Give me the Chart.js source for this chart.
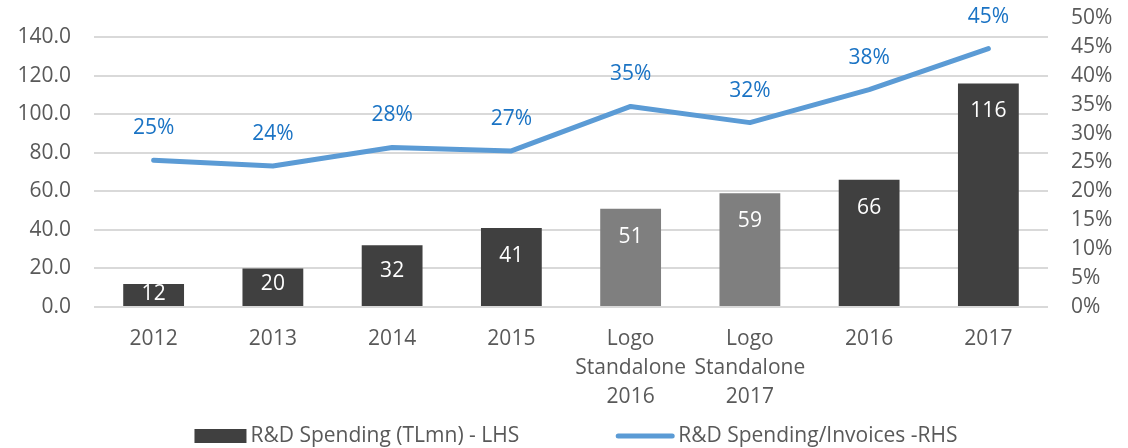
<!DOCTYPE html>
<html>
<head>
<meta charset="utf-8">
<script src="https://cdn.jsdelivr.net/npm/chart.js@4.4.1/dist/chart.umd.min.js"></script>
<style>
  html, body { margin: 0; padding: 0; background: #fff; }
  #wrap { width: 1128px; height: 448px; }
</style>
</head>
<body>
<div id="wrap"><canvas id="rdChart" width="1128" height="448"></canvas></div>
<script>
// values
const categories = ['2012', '2013', '2014', '2015', ['Logo', 'Standalone', '2016'], ['Logo', 'Standalone', '2017'], '2016', '2017'];
const spending = [12, 20, 32, 41, 51, 59, 66, 116];
const spendingRatio = [25.4, 24.4, 27.6, 27.0, 34.7, 31.9, 37.6, 44.7];
const leftAxis = { min: 0, max: 150, step: 20 };
const rightAxis = { min: 0, max: 50, step: 5 };
const seriesNames = ['R&D Spending (TLmn) - LHS', 'R&D Spending/Invoices -RHS'];

const DARK = '#404040';
const LIGHT = '#7f7f7f';
const BLUE = '#5b9bd5';
const LABEL_BLUE = '#1a73c4';
const TEXT = '#595959';
const FONT = "'Open Sans', sans-serif";

// draws the value labels on bars and line points
const valueLabels = {
    id: 'valueLabels',
    afterDatasetsDraw(chart) {
        const ctx = chart.ctx;
        ctx.save();
        ctx.font = '21px ' + FONT;
        ctx.textAlign = 'center';
        ctx.textBaseline = 'middle';

        const barMeta = chart.getDatasetMeta(1);
        barMeta.data.forEach((bar, i) => {
            const h = bar.base - bar.y;
            const off = Math.min(27, h * 0.4);
            ctx.fillStyle = '#fff';
            ctx.fillText(String(spending[i]), bar.x, bar.y + off + 1);
        });

        const lineMeta = chart.getDatasetMeta(0);
        lineMeta.data.forEach((pt, i) => {
            ctx.fillStyle = LABEL_BLUE;
            ctx.fillText(Math.round(spendingRatio[i]) + '%', pt.x, pt.y - 32);
        });
        ctx.restore();
    }
};

// simple legend at the bottom, like the Excel one
const bottomLegend = {
    id: 'bottomLegend',
    afterDraw(chart) {
        const ctx = chart.ctx;
        ctx.save();
        ctx.font = '21px ' + FONT;
        ctx.textBaseline = 'middle';
        ctx.textAlign = 'left';
        const y = 436;
        const w1 = ctx.measureText(seriesNames[0]).width;
        const w2 = ctx.measureText(seriesNames[1]).width;
        const total = 52 + 4 + w1 + 97 + 58 + 4 + w2;
        let x = chart.width / 2 + 12 - total / 2;

        ctx.fillStyle = DARK;
        ctx.fillRect(x, y - 7, 52, 14);
        x += 56;
        ctx.fillStyle = TEXT;
        ctx.fillText(seriesNames[0], x, y);
        x += w1 + 97;

        ctx.strokeStyle = BLUE;
        ctx.lineWidth = 5;
        ctx.lineCap = 'round';
        ctx.beginPath();
        ctx.moveTo(x + 2, y);
        ctx.lineTo(x + 56, y);
        ctx.stroke();
        x += 62;
        ctx.fillStyle = TEXT;
        ctx.fillText(seriesNames[1], x, y);
        ctx.restore();
    }
};

function fixY(width) {
    return s => {
        s.width = width;
        s.paddingTop = 0;
        s.paddingBottom = 0;
    };
}

new Chart(document.getElementById('rdChart'), {
    data: {
        labels: categories,
        datasets: [
            {
                type: 'line',
                label: seriesNames[1],
                data: spendingRatio,
                yAxisID: 'yR',
                borderColor: BLUE,
                borderWidth: 5,
                borderCapStyle: 'round',
                borderJoinStyle: 'round',
                pointRadius: 0,
                tension: 0,
                order: 0
            },
            {
                type: 'bar',
                label: seriesNames[0],
                data: spending,
                yAxisID: 'y',
                backgroundColor: categories.map(c => Array.isArray(c) ? LIGHT : DARK),
                barPercentage: 0.51,
                categoryPercentage: 1,
                order: 1
            }
        ]
    },
    plugins: [valueLabels, bottomLegend],
    options: {
        responsive: false,
        animation: false,
        layout: { padding: { top: 18, bottom: 28, left: 0, right: 0 } },
        plugins: {
            legend: { display: false },
            tooltip: { enabled: false }
        },
        scales: {
            x: {
                grid: { display: false, drawTicks: false },
                border: { display: false },
                ticks: {
                    color: TEXT,
                    font: { family: FONT, size: 21, lineHeight: 1.38 },
                    padding: 18,
                    maxRotation: 0,
                    autoSkip: false
                },
                afterFit(s) { s.height = 113; }
            },
            y: {
                position: 'left',
                min: leftAxis.min,
                max: leftAxis.max,
                grid: { color: '#d9d9d9', lineWidth: 2, drawTicks: false },
                border: { display: false },
                ticks: {
                    stepSize: leftAxis.step,
                    includeBounds: false,
                    autoSkip: false,
                    color: TEXT,
                    font: { family: FONT, size: 21 },
                    padding: 23,
                    callback: v => v.toFixed(1)
                },
                afterFit: fixY(94)
            },
            yR: {
                position: 'right',
                min: rightAxis.min,
                max: rightAxis.max,
                grid: { display: false, drawTicks: false },
                border: { display: false },
                ticks: {
                    stepSize: rightAxis.step,
                    autoSkip: false,
                    color: TEXT,
                    font: { family: FONT, size: 21 },
                    padding: 23,
                    callback: v => v + '%'
                },
                afterFit: fixY(80)
            }
        }
    }
});
</script>
</body>
</html>
